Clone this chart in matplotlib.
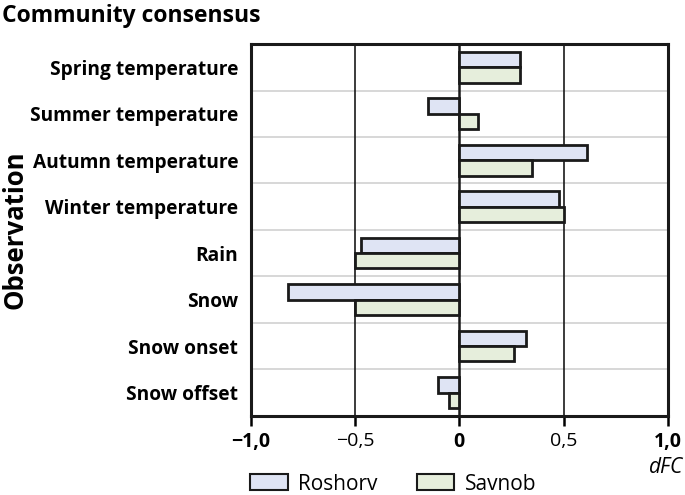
import numpy as np
import matplotlib.pyplot as plt
from matplotlib.patches import Patch

plt.rcParams['font.family'] = ['Open Sans', 'DejaVu Sans']

categories = ['Spring temperature', 'Summer temperature', 'Autumn temperature',
              'Winter temperature', 'Rain', 'Snow', 'Snow onset', 'Snow offset']
roshorv = [0.29, -0.15, 0.61, 0.48, -0.47, -0.82, 0.32, -0.10]
savnob = [0.29, 0.09, 0.35, 0.50, -0.50, -0.50, 0.26, -0.05]
xticks = [-1.0, -0.5, 0, 0.5, 1.0]
xticklabels = ['\u22121,0', '\u22120,5', '0', '0,5', '1,0']

col_r = '#dfe4f4'
col_s = '#e6eedc'

fig = plt.figure(figsize=(6.85, 4.95), dpi=100)
ax = fig.add_axes([0.366, 0.160, 0.609, 0.751])

y = np.arange(len(categories))
h = 0.33
ax.barh(y - h / 2, roshorv, height=h, color=col_r, edgecolor='#1a1a1a', linewidth=2, zorder=3)
ax.barh(y + h / 2, savnob, height=h, color=col_s, edgecolor='#1a1a1a', linewidth=2, zorder=3)

ax.set_xlim(-1, 1)
ax.set_ylim(len(categories) - 0.5, -0.5)

# grid: light horizontal separators, dark verticals
for yy in np.arange(0.5, len(categories) - 0.5, 1.0):
    ax.axhline(yy, color='#d4d4d4', lw=1.3, zorder=1)
for xx in [-0.5, 0, 0.5]:
    ax.axvline(xx, color='#1a1a1a', lw=1.2 if xx else 1.8, zorder=2)

for s in ax.spines.values():
    s.set_linewidth(2.2)
    s.set_color('#1a1a1a')

ax.set_yticks(y)
ax.set_yticklabels(categories, fontsize=13.8, fontweight='bold')
ax.tick_params(axis='y', length=0, pad=9)
ax.set_xticks(xticks)
ax.set_xticklabels(xticklabels, fontsize=14)
ax.tick_params(axis='x', length=7, width=1.8, direction='out', pad=5)
for lab, v in zip(ax.get_xticklabels(), xticks):
    if v in (-1.0, 0, 1.0):
        lab.set_fontweight('bold')

ax.set_ylabel('Observation', fontsize=18.5, fontweight='bold')
ax.yaxis.set_label_coords(-0.532, 0.5)

fig.text(0.003, 0.968, 'Community consensus', fontsize=16.5, fontweight='bold', va='center', ha='left')
fig.text(0.997, 0.056, 'dFC', fontsize=15, style='italic', ha='right', va='center')

handles = [Patch(facecolor=col_r, edgecolor='#1a1a1a', lw=1.5, label='Roshorv'),
           Patch(facecolor=col_s, edgecolor='#1a1a1a', lw=1.5, label='Savnob')]
fig.legend(handles=handles, loc='center left', bbox_to_anchor=(0.365, 0.022), ncol=2,
           frameon=False, fontsize=15, handlelength=1.8, handleheight=0.8,
           columnspacing=1.9, handletextpad=0.5, borderaxespad=0, borderpad=0)

fig.savefig('out.png', dpi=100)
